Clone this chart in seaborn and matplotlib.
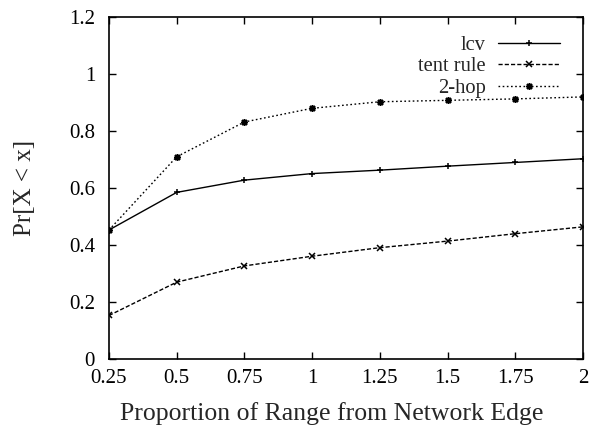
import matplotlib
matplotlib.use("Agg")
import matplotlib.pyplot as plt
import seaborn as sns
import pandas as pd

# values
proportion = [0.25, 0.5, 0.75, 1.0, 1.25, 1.5, 1.75, 2.0]
lcv = [0.453, 0.585, 0.628, 0.651, 0.663, 0.677, 0.690, 0.703]
tent_rule = [0.153, 0.270, 0.327, 0.361, 0.391, 0.414, 0.440, 0.464]
two_hop = [0.453, 0.710, 0.832, 0.880, 0.903, 0.908, 0.913, 0.920]

series = ["lcv", "tent rule", "2-hop"]

frames = []
for name, vals in zip(series, [lcv, tent_rule, two_hop]):
    frames.append(pd.DataFrame({"x": proportion, "y": vals, "series": name}))
df = pd.concat(frames, ignore_index=True)

sns.set_style("ticks")
plt.rcParams["font.family"] = ["Liberation Serif", "DejaVu Serif"]

fig = plt.figure(figsize=(5.93, 4.28), dpi=100)
ax = fig.add_axes([0.1838, 0.161, 0.7992, 0.799])

sns.lineplot(
    data=df,
    x="x",
    y="y",
    hue="series",
    style="series",
    palette={s: "black" for s in series},
    dashes={"lcv": "", "tent rule": (3, 1.5), "2-hop": (1.2, 1.8)},
    markers={"lcv": "+", "tent rule": "x", "2-hop": (8, 2, 0)},
    markersize=5,
    markeredgewidth=1.1,
    markeredgecolor="black",
    markerfacecolor="black",
    linewidth=1.0,
    ax=ax,
)

ax.set_xlim(0.25, 2)
ax.set_ylim(0, 1.2)
ax.set_xticks(proportion)
ax.set_xticklabels(["0.25", "0.5", "0.75", "1", "1.25", "1.5", "1.75", "2"])
ax.set_yticks([0, 0.2, 0.4, 0.6, 0.8, 1.0, 1.2])
ax.set_yticklabels(["0", "0.2", "0.4", "0.6", "0.8", "1", "1.2"])
ax.tick_params(direction="in", top=True, right=True, length=5, width=1,
               labelsize=15, colors="black")
ax.tick_params(axis="x", pad=7)
ax.tick_params(axis="y", pad=10)
for sp in ax.spines.values():
    sp.set_linewidth(1.2)
    sp.set_color("black")

ax.set_xlabel("Proportion of Range from Network Edge", fontsize=18.5, labelpad=11)
ax.xaxis.set_label_coords(0.47, -0.125)
ax.set_ylabel("Pr[X < x]", fontsize=18, labelpad=24)

handles, labels = ax.get_legend_handles_labels()
ax.legend(handles, labels, loc="upper right", bbox_to_anchor=(0.99, 1.0),
          frameon=False, markerfirst=False, fontsize=14.8, handlelength=3.0,
          labelspacing=0.1, handletextpad=0.6)

fig.savefig("out.png", dpi=100, facecolor="white")
